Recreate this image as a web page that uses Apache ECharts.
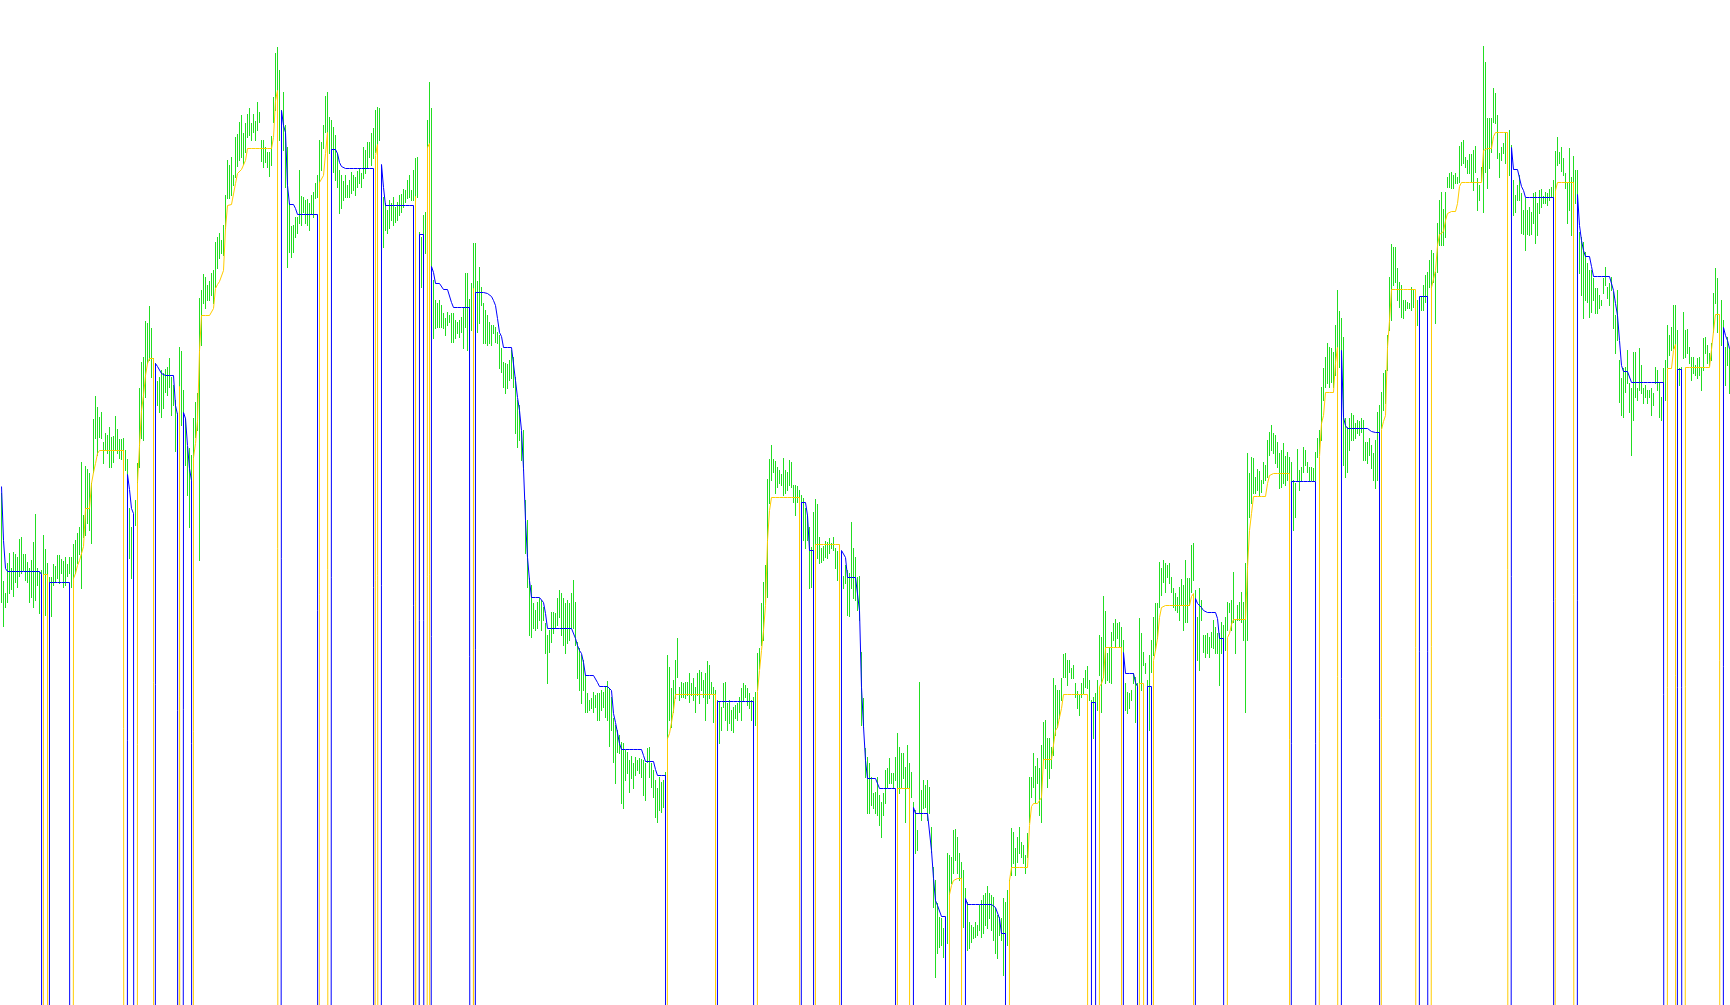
<!DOCTYPE html>
<html>
<head>
<meta charset="utf-8">
<style>
html,body{margin:0;padding:0;background:#fff;}
#chart{width:1730px;height:1005px;}
</style>
<script src="https://cdn.jsdelivr.net/npm/echarts@6/dist/echarts.min.js"></script>
</head>
<body>
<div id="chart"></div>
<script>
// Prices are stored in points above 1.0000 (1 point = 0.0001).
// OFF is the indicator's empty value 0.0, expressed in the same points.
const OFF = -10000;

// Bar highs (points)
const high = [
512,424,412,442,452,437,453,451,448,466,
468,451,451,443,437,445,463,491,437,433,
435,470,456,442,428,428,441,439,450,450,
446,444,448,441,448,448,461,465,472,478,
543,490,539,536,532,522,586,609,598,588,
593,563,572,570,578,568,569,589,576,566,
566,567,555,546,497,478,488,505,542,617,
643,648,684,682,699,677,647,642,624,628,
635,632,636,638,647,628,620,605,592,658,
654,615,587,558,557,550,587,603,612,707,
715,731,728,720,724,732,735,763,768,772,
765,780,810,845,840,848,830,868,871,883,
890,872,882,891,897,882,891,884,903,893,
865,865,858,853,853,869,908,952,958,935,
895,913,880,858,802,779,780,788,788,835,
809,808,805,806,802,810,813,822,830,865,
863,880,909,913,888,885,878,870,852,835,
830,824,830,820,825,833,830,828,834,837,
832,858,855,863,863,872,877,895,898,897,
830,808,802,795,805,802,808,798,803,810,
811,816,815,825,830,815,835,847,848,773,
768,790,793,885,923,897,725,705,702,705,
700,692,687,693,690,692,692,685,683,685,
688,697,732,732,706,722,762,762,724,738,
718,702,695,690,683,680,680,678,673,670,
657,643,642,641,645,655,648,628,605,600,
573,575,505,485,427,420,402,395,403,407,
405,398,382,370,375,393,393,392,407,415,
412,407,402,405,402,412,425,403,363,357,
350,345,330,312,305,307,313,310,312,312,
315,313,319,324,317,308,287,280,275,270,
263,262,255,253,245,249,242,248,245,247,
246,245,242,257,258,242,235,225,217,228,
223,225,233,350,338,317,325,345,367,318,
323,322,323,323,332,322,327,318,332,335,
333,325,332,344,340,323,318,315,305,303,
298,322,323,302,305,295,298,300,302,308,
317,322,320,317,312,305,308,313,352,357,
402,423,440,526,546,560,546,544,538,535,
531,547,535,533,545,543,520,520,519,515,
510,507,497,490,478,458,493,506,501,468,
457,459,464,463,467,462,468,457,454,455,
440,429,440,435,432,483,457,448,428,429,
353,307,257,248,242,228,212,213,228,210,
203,212,235,237,247,232,232,248,272,258,
252,252,238,260,242,233,203,195,175,323,
215,225,220,225,218,178,138,125,102,88,
87,77,77,152,150,148,175,176,168,152,
143,135,117,103,83,80,78,83,80,100,
105,110,112,119,112,110,108,97,90,88,
87,107,103,115,125,177,173,157,168,178,
163,160,150,172,228,228,252,239,247,237,
260,283,285,267,267,258,327,320,315,315,
327,351,352,345,345,337,340,322,314,310,
322,327,335,339,325,305,308,312,325,370,
368,409,394,352,358,373,382,386,382,383,
378,365,322,313,312,315,332,328,322,387,
372,353,342,325,350,365,388,402,402,443,
437,445,442,440,442,428,417,412,408,418,
426,420,445,427,427,460,462,415,388,417,
405,370,370,372,368,373,385,378,372,372,
383,380,388,403,402,405,433,385,400,403,
413,403,442,552,532,548,547,528,536,534,
525,543,540,565,573,580,572,570,563,552,
555,562,549,553,548,543,525,522,556,535,
538,558,555,543,538,538,537,553,567,575,
618,637,648,662,658,657,653,680,715,694,
687,668,587,578,587,592,590,582,585,584,
587,585,563,563,567,560,552,565,593,600,
613,632,635,670,728,761,758,758,737,723,
720,705,705,703,702,718,715,698,705,708,
708,720,730,733,745,755,752,733,782,805,
813,796,813,828,832,833,830,832,828,859,
863,865,848,845,851,851,855,859,827,820,
838,959,943,887,887,887,917,912,890,852,
858,862,872,870,875,860,825,810,820,830,
812,795,807,795,798,793,812,813,802,815,
816,809,813,812,816,818,825,854,868,853,
858,847,832,823,857,828,849,835,835,773,
768,763,753,742,735,735,727,717,717,710,
705,727,738,718,722,728,713,690,715,645,
627,637,638,655,622,617,653,653,617,657,
640,617,620,615,615,617,612,638,635,623,
608,637,645,680,670,678,700,700,675,637,
638,693,675,676,658,648,648,640,647,648,
638,667,668,660,652,662,712,737,727,688,
705,685,658,668,657
];

// Bar lows (points)
const low = [
403,379,398,403,412,416,409,423,418,429,
432,435,425,423,403,408,398,405,420,392,
402,390,390,405,412,389,420,423,427,422,
432,418,420,429,432,418,423,432,442,451,
417,468,470,482,475,462,533,567,550,568,
567,542,556,552,538,538,543,555,552,547,
546,548,535,515,447,427,445,480,523,538,
567,565,608,642,645,628,610,602,600,593,
588,597,613,610,618,590,600,554,550,595,
580,541,540,510,478,475,548,568,575,445,
660,702,697,705,705,710,702,718,737,747,
752,750,777,807,807,810,820,828,839,845,
848,841,853,868,870,865,873,865,875,883,
844,838,843,838,829,840,883,895,913,865,
828,855,818,738,753,748,753,768,772,782,
780,793,782,780,775,792,788,807,808,823,
835,857,873,860,852,835,833,825,818,792,
797,805,808,808,808,812,815,810,818,822,
818,827,832,837,848,840,847,853,845,865,
745,758,775,772,777,785,780,783,785,790,
793,798,803,807,808,805,805,808,808,738,
718,732,752,812,855,732,667,677,678,678,
678,677,670,680,683,663,663,667,672,668,
673,657,678,655,648,675,685,665,673,682,
700,662,662,660,662,660,672,663,662,637,
633,618,612,617,625,627,618,572,558,565,
545,535,452,418,370,368,377,375,377,385,
375,385,352,322,353,363,372,377,380,388,
370,360,352,362,365,377,377,360,327,315,
302,315,293,293,295,297,293,298,285,285,
295,298,288,285,259,275,243,222,253,252,
202,197,225,232,213,227,217,230,235,232,
228,210,205,243,228,218,208,188,183,195,
193,198,205,258,285,278,293,307,328,305,
308,308,307,310,303,310,305,293,310,302,
315,308,285,302,307,312,283,295,250,262,
275,298,285,275,282,275,273,287,285,293,
285,305,308,300,297,285,275,280,315,337,
360,365,403,408,502,525,533,512,518,522,
520,510,512,515,520,518,503,490,503,500,
465,465,457,465,417,418,445,460,447,442,
443,445,448,447,452,457,455,437,425,425,
415,417,422,390,389,417,407,405,395,385,
280,278,228,192,192,200,197,192,190,180,
168,190,202,218,222,222,217,225,215,212,
218,227,183,217,217,208,137,152,155,192,
185,197,198,185,192,153,98,28,52,58,
60,48,52,62,100,122,132,145,132,125,
95,78,65,55,57,63,67,68,70,75,
68,72,80,77,87,75,65,52,47,70,
65,30,45,60,102,130,142,130,143,152,
148,142,132,148,183,208,218,202,222,190,
183,245,237,218,227,237,250,270,278,287,
305,328,328,320,333,327,327,308,297,290,
308,312,318,317,305,265,267,282,295,330,
293,328,322,325,323,322,365,358,367,358,
345,315,295,292,297,305,322,283,295,317,
315,340,332,318,275,333,350,355,367,398,
410,423,413,428,422,413,398,395,393,385,
400,375,383,383,400,413,425,365,345,335,
385,353,348,352,348,358,357,352,352,320,
352,348,355,375,393,375,383,352,385,385,
383,365,293,365,488,502,512,512,515,510,
513,522,525,528,550,555,552,542,538,517,
518,522,520,525,525,505,475,488,525,515,
525,533,540,533,525,525,525,525,548,552,
565,605,618,622,618,623,618,630,658,638,
607,540,528,533,555,565,565,567,572,570,
573,545,545,542,550,537,525,517,525,555,
577,595,602,635,675,685,720,723,705,698,
688,687,695,697,697,695,698,682,680,675,
695,695,703,708,718,718,723,682,733,760,
760,760,768,818,818,817,817,822,822,823,
840,842,838,832,832,823,815,833,795,805,
825,793,833,817,837,853,883,882,847,828,
845,852,842,822,830,800,790,793,805,805,
772,771,755,771,770,771,782,762,770,792,
798,802,802,800,805,808,805,815,840,842,
834,830,817,782,795,770,793,802,790,732,
710,687,705,703,688,693,705,692,692,697,
700,712,720,707,700,715,677,652,665,603,
590,588,613,622,593,550,585,608,605,615,
612,602,608,602,608,590,600,622,615,588,
585,592,605,638,650,655,657,635,562,620,
615,647,648,652,642,625,632,630,627,630,
615,635,652,642,640,645,673,702,673,645,
660,645,620,640,612
];

// Up-trend stop line (yellow): [bar index where the level starts, level]
const supportSteps = [
[0,OFF],[21,431],[24,OFF],[36,427],[37,432],[38,440],[39,445],[41,459],[42,497],[45,522],[46,533],[47,542],[48,552],[49,555],
[63,OFF],[68,523],[69,560],[70,595],[71,610],[72,630],[73,642],[74,647],[77,OFF],[89,619],[91,OFF],
[96,548],[97,562],[98,585],[99,655],[100,690],[106,697],[107,717],[108,721],[109,724],[111,735],[112,777],[113,800],[114,801],
[117,822],[118,832],[119,834],[120,836],[122,845],[123,857],[136,868],[137,905],[138,915],[140,OFF],
[159,823],[160,825],[161,830],[162,852],[163,873],[165,OFF],[187,850],[188,861],[190,OFF],[207,809],[209,OFF],
[213,858],[214,862],[215,OFF],[236,717],[237,OFF],
[333,267],[334,272],[335,283],[336,295],[337,311],[358,OFF],
[378,314],[379,335],[380,355],[381,375],[382,400],[383,465],[384,495],[385,508],[400,OFF],[407,461],[420,OFF],
[448,217],[456,OFF],[474,111],[475,120],[476,125],[477,126],[478,127],[482,OFF],
[504,125],[505,138],[514,180],[515,199],[516,202],[520,208],[521,246],[526,248],[527,275],[528,278],[529,288],[530,297],[531,311],[545,OFF],
[549,319],[550,322],[551,328],[552,358],[561,OFF],[569,322],[573,OFF],
[576,345],[577,355],[578,367],[579,388],[580,398],[581,400],[595,409],[596,412],[597,OFF],
[613,368],[614,372],[615,381],[616,386],[623,438],[624,475],[625,492],[626,509],[633,522],[634,530],[635,532],[645,OFF],
[659,549],[660,582],[661,590],[662,613],[667,643],[668,658],[669,660],[670,OFF],
[690,576],[691,584],[692,590],[693,658],[694,685],[695,716],[709,OFF],
[715,718],[717,735],[718,760],[719,771],[721,774],[722,785],[723,792],[724,793],[725,794],[728,802],[729,819],[730,823],
[741,855],[742,857],[746,869],[747,873],[755,OFF],[777,815],[778,823],[788,OFF],
[833,637],[836,655],[837,661],[838,OFF],[842,638],[856,674],[857,691],[861,OFF]
];

// Down-trend stop line (blue)
const resistSteps = [
[0,519],[1,465],[2,437],[3,434],[20,431],[21,OFF],[24,423],[36,OFF],
[63,531],[64,516],[65,497],[66,492],[68,OFF],
[77,642],[78,639],[79,637],[80,632],[81,630],[87,600],[88,591],[89,OFF],
[91,593],[92,587],[93,560],[94,537],[95,525],[96,OFF],
[140,895],[141,880],[142,873],[143,820],[144,801],[147,797],[148,791],[159,OFF],
[165,856],[168,852],[169,843],[170,839],[171,837],[187,OFF],
[190,841],[191,818],[192,800],[207,OFF],[209,771],[213,OFF],
[215,739],[216,733],[217,722],[221,716],[225,703],[226,698],[236,OFF],
[237,713],[242,712],[244,711],[245,709],[246,705],[247,700],[248,687],[249,673],[250,669],[251,658],
[257,625],[258,608],[259,595],[260,575],[261,537],[262,485],[263,448],[264,425],[265,408],[271,403],[272,392],[273,377],
[287,367],[288,360],[289,355],[290,352],[291,343],[292,330],[298,323],[299,319],[304,317],[305,315],[306,292],[307,283],[308,281],
[309,262],[310,256],[321,250],[322,244],[327,236],[328,230],[333,OFF],
[358,304],[378,OFF],[400,503],[403,490],[404,455],[407,OFF],
[420,455],[422,448],[423,428],[429,395],[430,318],[431,279],[432,245],[433,227],[439,217],[448,OFF],
[456,198],[457,192],[465,155],[466,127],[467,105],[468,100],[469,98],[470,89],[474,OFF],
[482,107],[483,101],[497,98],[498,96],[499,87],[500,72],[504,OFF],
[545,303],[549,OFF],[561,353],[562,332],[567,323],[568,319],[569,OFF],[573,319],[576,OFF],
[597,407],[598,402],[599,400],[600,398],[601,395],[602,393],[608,387],[609,367],[613,OFF],
[645,524],[659,OFF],[670,655],[671,588],[672,580],[673,577],[685,574],[686,573],[690,OFF],
[709,709],[715,OFF],[755,858],[756,836],[760,819],[761,815],[762,808],[777,OFF],
[788,811],[789,780],[790,765],[791,755],[792,749],[795,739],[796,729],[806,715],[807,702],[808,690],[809,665],[810,640],[811,634],[815,623],[833,OFF],
[838,636],[842,OFF],[861,678],[862,670],[863,665],[864,657]
];

const N = high.length;

function expandSteps(steps) {
  const out = [];
  let k = 0, v = OFF;
  for (let i = 0; i < N; i++) {
    while (k < steps.length && steps[k][0] === i) { v = steps[k][1]; k++; }
    out.push([i, v]);
  }
  return out;
}

const barData = high.map((h, i) => [i, h, low[i]]);
const GREEN = '#22DD22', BLUE = '#0000FF', GOLD = '#FFCC00';

const chart = echarts.init(document.getElementById('chart'), null, {renderer: 'canvas'});
chart.setOption({
  animation: false,
  backgroundColor: '#ffffff',
  grid: {left: 0, right: 0, top: 0, bottom: 0, containLabel: false},
  xAxis: {type: 'value', min: -0.75, max: N - 0.75, show: false, splitLine: {show: false}},
  yAxis: {type: 'value', min: 0.5, max: 1005.5, show: false, splitLine: {show: false}},
  series: [
    {
      type: 'custom',
      z: 1,
      data: barData,
      encode: {x: 0, y: [1, 2]},
      clip: true,
      renderItem: function (params, api) {
        const i = api.value(0);
        const pHi = api.coord([i, api.value(1)]);
        const pLo = api.coord([i, api.value(2)]);
        const x = Math.floor(pHi[0]);
        const yTop = Math.floor(pHi[1]);
        const yBot = Math.floor(pLo[1]);
        return {
          type: 'rect',
          shape: {x: x, y: yTop, width: 1, height: yBot - yTop + 1},
          style: {fill: GREEN, stroke: null}
        };
      }
    },
    {
      type: 'line', z: 3, data: expandSteps(supportSteps), symbol: 'none', clip: true,
      lineStyle: {color: GOLD, width: 1}, silent: true
    },
    {
      type: 'line', z: 3, data: expandSteps(resistSteps), symbol: 'none', clip: true,
      lineStyle: {color: BLUE, width: 1}, silent: true
    }
  ]
});
</script>
</body>
</html>
